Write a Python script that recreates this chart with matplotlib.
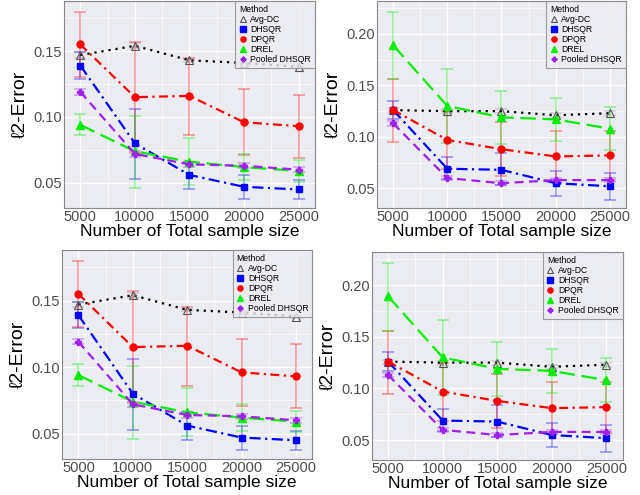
import numpy as np
import matplotlib.pyplot as plt
from matplotlib.ticker import MultipleLocator

# ============================================================
# Data
# ============================================================
SAMPLE_SIZES = [5000, 10000, 15000, 20000, 25000]
METHODS = ['Avg-DC', 'DHSQR', 'DPQR', 'DREL', 'Pooled DHSQR']

# left panel: mean, lower, upper
LEFT_MEAN = {
    'Avg-DC': [0.147, 0.154, 0.143, 0.141, 0.138],
    'DHSQR': [0.139, 0.080, 0.056, 0.047, 0.045],
    'DPQR': [0.155, 0.115, 0.116, 0.096, 0.093],
    'DREL': [0.094, 0.074, 0.066, 0.062, 0.059],
    'Pooled DHSQR': [0.119, 0.072, 0.064, 0.063, 0.060],
}
LEFT_LOW = {
    'Avg-DC': [0.145, 0.152, 0.142, 0.140, 0.137],
    'DHSQR': [0.129, 0.053, 0.045, 0.038, 0.038],
    'DPQR': [0.130, 0.073, 0.086, 0.071, 0.069],
    'DREL': [0.086, 0.046, 0.048, 0.052, 0.051],
    'Pooled DHSQR': [0.117, 0.070, 0.062, 0.061, 0.058],
}
LEFT_HIGH = {
    'Avg-DC': [0.149, 0.156, 0.144, 0.142, 0.139],
    'DHSQR': [0.149, 0.106, 0.066, 0.056, 0.052],
    'DPQR': [0.180, 0.157, 0.145, 0.121, 0.117],
    'DREL': [0.102, 0.101, 0.084, 0.072, 0.067],
    'Pooled DHSQR': [0.121, 0.074, 0.066, 0.065, 0.062],
}

# right panel: mean, lower, upper
RIGHT_MEAN = {
    'Avg-DC': [0.126, 0.125, 0.125, 0.121, 0.123],
    'DHSQR': [0.126, 0.069, 0.068, 0.055, 0.052],
    'DPQR': [0.126, 0.097, 0.088, 0.081, 0.082],
    'DREL': [0.189, 0.130, 0.119, 0.117, 0.108],
    'Pooled DHSQR': [0.113, 0.060, 0.055, 0.058, 0.058],
}
RIGHT_LOW = {
    'Avg-DC': [0.124, 0.123, 0.123, 0.119, 0.121],
    'DHSQR': [0.117, 0.059, 0.053, 0.043, 0.039],
    'DPQR': [0.095, 0.069, 0.062, 0.058, 0.058],
    'DREL': [0.156, 0.094, 0.093, 0.096, 0.087],
    'Pooled DHSQR': [0.111, 0.058, 0.053, 0.056, 0.056],
}
RIGHT_HIGH = {
    'Avg-DC': [0.128, 0.127, 0.127, 0.123, 0.125],
    'DHSQR': [0.135, 0.080, 0.084, 0.067, 0.065],
    'DPQR': [0.156, 0.125, 0.114, 0.106, 0.106],
    'DREL': [0.221, 0.166, 0.145, 0.138, 0.129],
    'Pooled DHSQR': [0.115, 0.062, 0.057, 0.060, 0.060],
}

X_TICKS = [5000, 10000, 15000, 20000, 25000]
LEFT_YTICKS = [0.05, 0.10, 0.15]
RIGHT_YTICKS = [0.05, 0.10, 0.15, 0.20]

# ============================================================
# Styles
# ============================================================
COLORS = {'Avg-DC': 'black', 'DHSQR': '#0000FF', 'DPQR': '#FF0000',
          'DREL': '#00EE00', 'Pooled DHSQR': '#A020F0'}
ERR_COLORS = {'Avg-DC': '#999999', 'DHSQR': '#0000FF', 'DPQR': '#FF0000',
              'DREL': '#00EE00', 'Pooled DHSQR': '#A020F0'}
LINESTYLES = {'Avg-DC': (0, (1, 2.2)), 'DHSQR': (0, (5, 2, 1, 2)),
              'DPQR': (0, (4, 2, 1, 2)), 'DREL': (0, (7, 3)),
              'Pooled DHSQR': (0, (4, 2.5))}
MARKERS = {'Avg-DC': '^', 'DHSQR': 's', 'DPQR': 'o', 'DREL': '^',
           'Pooled DHSQR': 'P'}
MSIZES = {'Avg-DC': 6, 'DHSQR': 5, 'DPQR': 5, 'DREL': 5.5,
          'Pooled DHSQR': 4.5}

plt.rcParams['font.family'] = ['Liberation Sans', 'DejaVu Sans']

PANEL_BG = '#EBEBF2'


def draw_panel(ax, mean, low, high, yticks, ylim):
    ax.set_facecolor(PANEL_BG)
    for m in METHODS:
        y = np.array(mean[m])
        lo = y - np.array(low[m])
        hi = np.array(high[m]) - y
        ax.errorbar(SAMPLE_SIZES, y, yerr=[lo, hi], fmt='none',
                    ecolor=ERR_COLORS[m], alpha=0.4, elinewidth=1.1,
                    capsize=4.5, capthick=1.1, zorder=2)
    for m in METHODS:
        if m == 'Avg-DC':
            ax.plot(SAMPLE_SIZES, mean[m], color='black',
                    linestyle=LINESTYLES[m], lw=1.6, marker='^', ms=MSIZES[m],
                    mfc='none', mec='#555555', mew=0.8, label=m, zorder=3)
        else:
            ax.plot(SAMPLE_SIZES, mean[m], color=COLORS[m],
                    linestyle=LINESTYLES[m], lw=1.6, marker=MARKERS[m],
                    ms=MSIZES[m], mec=COLORS[m], label=m, zorder=3)
    ax.set_xlim(3500, 26500)
    ax.set_ylim(*ylim)
    ax.set_xticks(X_TICKS)
    ax.set_yticks(yticks)
    ax.set_yticklabels([f'{t:.2f}' for t in yticks])
    ax.xaxis.set_minor_locator(MultipleLocator(2500))
    ax.yaxis.set_minor_locator(MultipleLocator(0.025))
    ax.grid(which='major', color='white', lw=1.0)
    ax.grid(which='minor', color='white', lw=0.5)
    ax.set_axisbelow(True)
    for s in ax.spines.values():
        s.set_color('#888888')
        s.set_linewidth(0.8)
    ax.tick_params(which='major', length=0, labelsize=10.5,
                   labelcolor='#4D4D4D', pad=1.5)
    ax.tick_params(which='minor', length=0)
    ax.set_xlabel('Number of Total sample size', fontsize=12.5, labelpad=0)
    ax.set_ylabel('ℓ2-Error', fontsize=14, labelpad=3)
    leg = ax.legend(loc='upper right', title='Method', fontsize=6.2,
                    title_fontsize=6.2, frameon=True, fancybox=False,
                    borderaxespad=0, handlelength=0.8, handletextpad=0.5,
                    labelspacing=0.12, borderpad=0.45, markerscale=0.75)
    for h in leg.legend_handles:
        h.set_linestyle('None')
    leg.get_frame().set_edgecolor('#888888')
    leg.get_frame().set_facecolor(PANEL_BG)
    leg.get_frame().set_linewidth(0.8)
    leg._legend_box.align = 'left'


fig = plt.figure(figsize=(6.4, 4.95), dpi=100)

ax1 = fig.add_axes([0.100, 0.580, 0.392, 0.418])
ax2 = fig.add_axes([0.589, 0.580, 0.389, 0.418])
ax3 = fig.add_axes([0.097, 0.073, 0.391, 0.422])
ax4 = fig.add_axes([0.581, 0.071, 0.392, 0.420])

draw_panel(ax1, LEFT_MEAN, LEFT_LOW, LEFT_HIGH, LEFT_YTICKS, (0.031, 0.188))
draw_panel(ax2, RIGHT_MEAN, RIGHT_LOW, RIGHT_HIGH, RIGHT_YTICKS, (0.031, 0.232))
draw_panel(ax3, LEFT_MEAN, LEFT_LOW, LEFT_HIGH, LEFT_YTICKS, (0.031, 0.188))
draw_panel(ax4, RIGHT_MEAN, RIGHT_LOW, RIGHT_HIGH, RIGHT_YTICKS, (0.031, 0.232))

plt.savefig('out.png', dpi=100)
plt.close()
